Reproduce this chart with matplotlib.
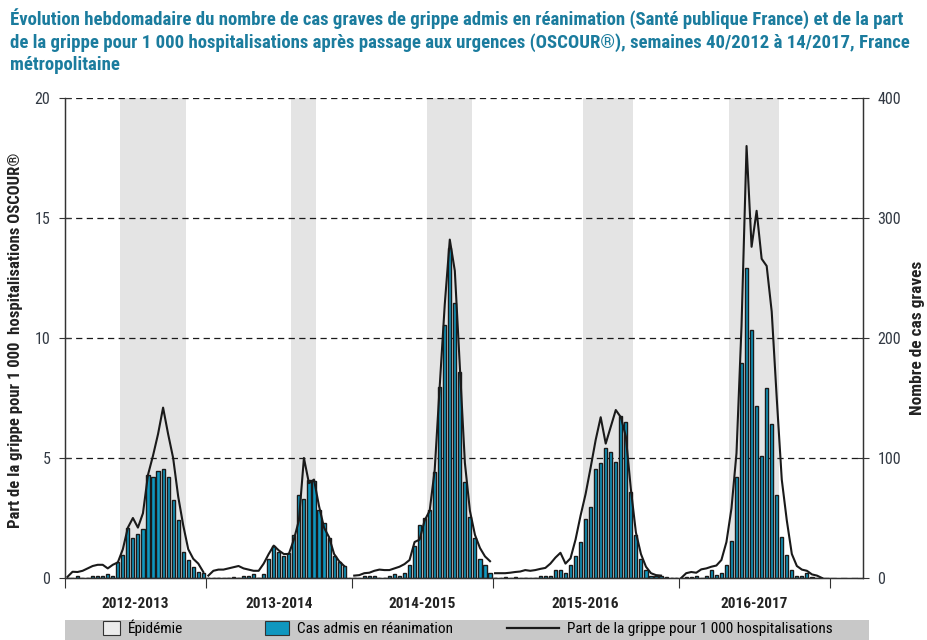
import numpy as np
import matplotlib.pyplot as plt
import matplotlib.font_manager as fm
from matplotlib.patches import Patch, Rectangle
from matplotlib.lines import Line2D
from matplotlib.legend_handler import HandlerPatch

# police étroite si disponible, sinon Liberation Sans
names = {f.name for f in fm.fontManager.ttflist}
family = 'Liberation Sans'
stretch = 'normal'
for cand in ['Liberation Sans Narrow', 'Roboto Condensed', 'Open Sans Condensed', 'Noto Sans Condensed']:
    if cand in names:
        family = cand
        break
else:
    p = fm.findfont(fm.FontProperties(family='DejaVu Sans', stretch='condensed', weight='bold'))
    if 'Condensed' in p:
        family = 'DejaVu Sans'
        stretch = 'condensed'
plt.rcParams['font.family'] = [family, 'DejaVu Sans']
plt.rcParams['font.stretch'] = stretch

nan = np.nan

seasons = ["2012-2013", "2013-2014", "2014-2015", "2015-2016", "2016-2017"]

# part de la grippe pour 1 000 hospitalisations (OSCOUR), une valeur par semaine
oscour_1213 = [0.05, 0.26, 0.25, 0.3, 0.4, 0.5, 0.55, 0.55, 0.4, 0.55, 0.65, 1.2, 2.1, 2.5,
               2.1, 2.7, 4.3, 5.1, 6.0, 7.1, 6.0, 5.0, 3.4, 2.2, 1.2, 0.8, 0.6, 0.25]
oscour_1314 = [0.1, 0.3, 0.35, 0.35, 0.4, 0.45, 0.5, 0.4, 0.35, 0.3, 0.3, 0.6, 1.0, 1.35,
               1.15, 1.0, 1.0, 1.6, 2.4, 5.0, 3.95, 4.1, 3.0, 2.1, 1.7, 1.0, 0.7, 0.5, nan]
oscour_1415 = [0.1, 0.12, 0.2, 0.22, 0.3, 0.35, 0.33, 0.33, 0.4, 0.47, 0.58, 0.75, 1.5, 1.6,
               2.4, 2.8, 4.5, 8.0, 11.4, 14.1, 12.8, 8.8, 4.8, 2.8, 1.8, 1.25, 0.9, 0.7]
oscour_1516 = [0.2, 0.2, 0.2, 0.22, 0.25, 0.27, 0.33, 0.3, 0.33, 0.38, 0.42, 0.6, 0.85, 1.05,
               0.6, 0.82, 1.6, 2.6, 3.5, 4.6, 5.75, 6.7, 5.6, 6.3, 7.0, 6.7, 5.9, 3.7, 1.9,
               1.0, 0.47, 0.2, 0.12, 0.1, nan, nan, nan]
oscour_1617 = [0.0, 0.2, 0.25, 0.22, 0.36, 0.4, 0.47, 0.52, 0.75, 1.5, 2.9, 5.2, 10.5, 18.0,
               13.8, 15.3, 13.3, 13.0, 11.1, 7.5, 4.1, 2.4, 1.0, 0.5, 0.35, 0.3, 0.15, 0.1,
               0.0, nan]

# nombre de cas graves admis en réanimation
rea_1213 = [0, 0, 2, 0, 0, 2, 2, 2, 3, 2, 13, 19, 42, 33, 37, 41, 86, 84, 89, 91, 84, 65,
            48, 22, 15, 9, 5, 4]
rea_1314 = [0, 0, 0, 0, 0, 1, 0, 2, 2, 3, 0, 3, 16, 27, 22, 18, 21, 36, 69, 66, 82, 81, 57,
            46, 33, 18, 13, 10, 0]
rea_1415 = [0, 0, 2, 2, 2, 0, 0, 2, 3, 2, 4, 11, 27, 44, 50, 57, 88, 159, 211, 275, 229,
            172, 80, 51, 33, 16, 11, 4]
rea_1516 = [0, 0, 1, 0, 1, 0, 0, 0, 0, 2, 2, 2, 7, 7, 4, 11, 18, 30, 49, 59, 91, 96, 108,
            105, 97, 135, 130, 72, 36, 16, 7, 2, 1.5, 2, 1, 0, 0]
rea_1617 = [0, 1, 1, 1.5, 0, 2, 7, 2.5, 4, 11, 31, 84, 179, 258, 207, 143, 102, 158, 128,
            69, 34, 19, 7, 2, 2, 4, 1, 0, 0, 0]

oscour = [oscour_1213, oscour_1314, oscour_1415, oscour_1516, oscour_1617]
rea = [rea_1213, rea_1314, rea_1415, rea_1516, rea_1617]

# période épidémique : première et dernière semaine (rang dans la saison)
epi_first = [11, 17, 15, 18, 10]
epi_last = [23, 21, 23, 27, 19]

BLUE = '#0f97bf'
TEAL = '#1b7c9e'
DARK = '#1a1a1a'

fig = plt.figure(figsize=(9.28, 6.4), dpi=100)
ax1 = fig.add_axes([65/928, 62/640, 798/928, 480/640])
ax2 = ax1.twinx()
ax1.set_zorder(ax2.get_zorder() + 1)
ax1.patch.set_visible(False)

starts = np.concatenate([[0], np.cumsum([len(s) for s in rea])])
centers = []
for k in range(len(seasons)):
    x0 = starts[k]
    x = x0 + np.arange(len(rea[k])) + 0.5
    ax2.axvspan(x0 + epi_first[k], x0 + epi_last[k] + 1, color='#e4e4e4', lw=0, zorder=0)
    ax2.bar(x, rea[k], width=0.62, color=BLUE, edgecolor=DARK, linewidth=1.0, zorder=2)
    ax1.plot(x, oscour[k], color=DARK, lw=1.5)
    centers.append((starts[k] + starts[k + 1]) / 2)

ax1.set_xlim(0, starts[-1] + 6.65)
ax1.set_ylim(0, 20)
ax2.set_ylim(0, 400)
ax1.set_yticks([0, 5, 10, 15, 20])
ax2.set_yticks([0, 100, 200, 300, 400])

ax2.set_axisbelow(True)
ax2.yaxis.grid(True, color=DARK, linestyle=(0, (5, 3.5)), lw=0.9)

ax1.set_xticks(starts)
ax1.set_xticklabels([])
ax1.set_xticks(centers, minor=True)
ax1.set_xticklabels(seasons, minor=True, fontsize=11, fontweight='bold', color='#222222')
ax1.tick_params(axis='x', which='major', direction='out', length=7, width=0.8, color='#333333')
ax1.tick_params(axis='x', which='minor', length=0, pad=14)

ax1.tick_params(axis='y', direction='inout', length=9, width=0.8, color='#333333',
                labelsize=11.5, labelcolor='#333a44', pad=6)
ax2.tick_params(axis='y', direction='inout', length=9, width=0.8, color='#333333',
                labelsize=11.5, labelcolor='#333a44', pad=6)

for ax in (ax1, ax2):
    ax.spines['top'].set_visible(False)
    for s in ('left', 'right', 'bottom'):
        ax.spines[s].set_color('#333333')
        ax.spines[s].set_linewidth(0.9)

title_lines = ["Évolution hebdomadaire du nombre de cas graves de grippe admis en réanimation (Santé publique France) et de la part",
               "de la grippe pour 1 000 hospitalisations après passage aux urgences (OSCOUR®), semaines 40/2012 à 14/2017, France",
               "métropolitaine"]
title = fig.text(10/928, 1 - 8/640, "\n".join(title_lines),
                 ha='left', va='top', fontsize=13, fontweight='bold', color=TEAL, linespacing=1.3)

ylab = fig.text(16/928, 1 - 340/640, "Part de la grippe pour 1 000  hospitalisations OSCOUR®",
                rotation=90, ha='center', va='center', fontsize=12, fontweight='bold', color='#222222')
fig.text(918/928, 1 - 338/640, "Nombre de cas graves",
         rotation=90, ha='center', va='center', fontsize=12.5, fontweight='bold', color='#222222')


def box(w):
    def make(legend, orig_handle, xdescent, ydescent, width, height, fontsize):
        return Rectangle((-xdescent + width - w * fontsize, -ydescent - 1), w * fontsize, height + 2)
    return HandlerPatch(patch_func=make)


# bandeau gris de la légende
fig.patches.append(Rectangle((65/928, 0), 804/928, 20/640, transform=fig.transFigure,
                             facecolor='#c8c8c8', edgecolor='none', zorder=0))

h_epi = Patch(facecolor='#ececec', edgecolor='#333333', lw=0.8)
h_rea = Patch(facecolor=BLUE, edgecolor='#333333', lw=0.8)
h_line = Line2D([], [], color=DARK, lw=1.6)
leg = fig.legend([h_epi, h_rea, h_line],
                 ["Épidémie", "Cas admis en réanimation", "Part de la grippe pour 1 000 hospitalisations"],
                 handler_map={h_epi: box(1.1), h_rea: box(1.6)},
                 loc='lower left', bbox_to_anchor=(64/928, 0, 772/928, 20/640), mode='expand',
                 ncol=3, fontsize=11, handlelength=3.4, handletextpad=0.5, borderpad=0.25,
                 borderaxespad=0, frameon=False)

# ajuster le titre à la largeur du bloc d'origine
fig.canvas.draw()
r = fig.canvas.get_renderer()
tw = title.get_window_extent(r).width
title.set_fontsize(13 * 895 / tw)

fig.savefig("out.png", dpi=100)
